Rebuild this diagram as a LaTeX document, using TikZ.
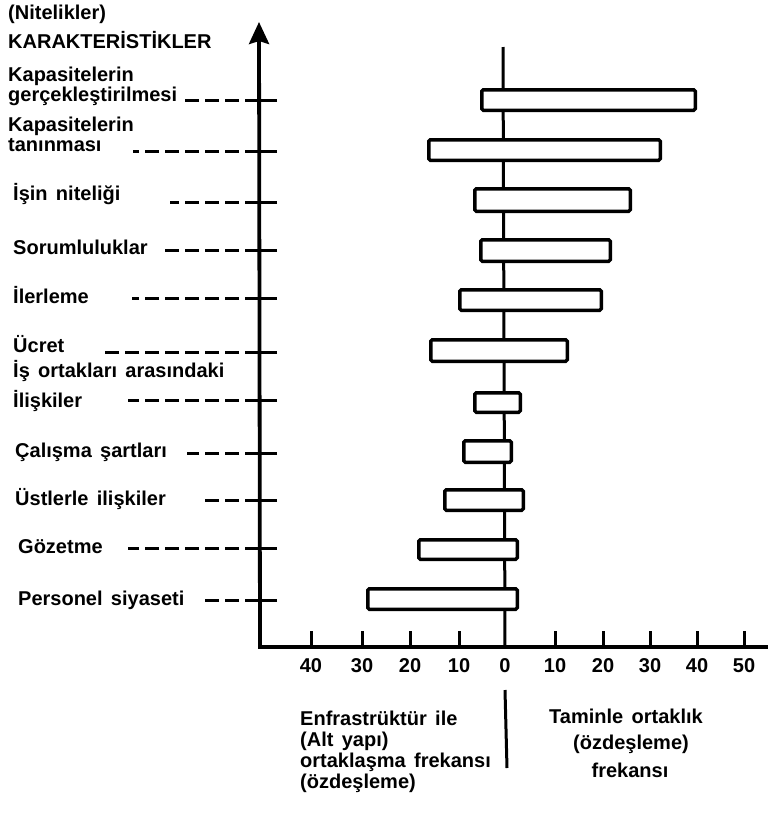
\documentclass[tikz,border=0pt]{standalone}
\usepackage{fontspec}
\setmainfont[WordSpace=1.5]{Liberation Sans}
\usetikzlibrary{arrows.meta}

\begin{document}
\begin{tikzpicture}[x=1pt,y=-1pt,
  every node/.style={font=\fontsize{20}{22}\bfseries\selectfont, inner sep=0pt},
  lbl/.style={anchor=base west},
  ctr/.style={anchor=base},
  bar/.style={draw, line width=3.5pt, fill=white, rounded corners=1.5pt},
  leader/.style={line width=3pt, dash pattern=on 32pt off 6pt on 14pt off 6pt on 14pt off 6pt on 14pt off 6pt on 14pt off 6pt on 14pt off 6pt on 14pt off 6pt on 14pt off 6pt on 14pt off 6pt},
  axis/.style={line width=3.8pt, line join=miter},
  tickmark/.style={line width=3pt},
  zeroline/.style={line width=3pt}
]
\useasboundingbox (0,0) rectangle (768,817);

% axes
\coordinate (O) at (260,647);
\coordinate (ytip) at (259,22);
\coordinate (xend) at (768,647);
\draw[axis, -{Stealth[length=22pt,width=20pt,inset=3pt]}] (xend) -- (O) -- (ytip);

% zero reference line (runs behind the bars)
\coordinate (ztop) at (503,47);
\coordinate (zbase) at (505,647);
\draw[zeroline] (ztop) -- (zbase);

% frequency bars: index / left / right / top / bottom (outer edges)
\foreach \i/\l/\r/\t/\b in {
  1/480/697/88/112, 2/427/662/138/162, 3/473/632/187/213,
  4/479/612/238/263, 5/458/603/288/312, 6/429/569/338/363,
  7/473/522/391/414, 8/462/513/439/464, 9/443/525/488/512,
  10/417/519/538/561, 11/366/519/587/611}
  \node[bar, minimum width={\r-\l-3.5}, minimum height={\b-\t-3.5}]
    (bar\i) at ({(\l+\r)/2},{(\t+\b)/2}) {};

% axis titles
\node[lbl] (ttl1) at (8,19) {(Nitelikler)};
\node[lbl] (ttl2) at (8,48) {KARAKTERİSTİKLER};

% characteristic labels
\node[lbl] (l1a) at (8,81) {Kapasitelerin};
\node[lbl] (l1b) at (8,101) {gerçekleştirilmesi};
\node[lbl] (l2a) at (8,131) {Kapasitelerin};
\node[lbl] (l2b) at (8,151) {tanınması};
\node[lbl] (l3) at (13,200) {İşin niteliği};
\node[lbl] (l4) at (13,254) {Sorumluluklar};
\node[lbl] (l5) at (13,303) {İlerleme};
\node[lbl] (l6) at (13,352) {Ücret};
\node[lbl] (l7a) at (13,377) {İş ortakları arasındaki};
\node[lbl] (l7b) at (13,407) {İlişkiler};
\node[lbl] (l8) at (15,457) {Çalışma şartları};
\node[lbl] (l9) at (15,505) {Üstlerle ilişkiler};
\node[lbl] (l10) at (18,553) {Gözetme};
\node[lbl] (l11) at (18,605) {Personel siyaseti};

% dashed leaders from the labels to the axis
\foreach \i/\s/\y in {1/183/100, 2/133/151, 3/170/202, 4/159/250, 5/132/298,
  6/102/352, 7/128/400, 8/187/453, 9/199/500, 10/128/548, 11/199/600} {
  \coordinate (ds\i) at (\s,\y);
  \coordinate (de\i) at (277,\y);
  \draw[leader] (de\i) -- (ds\i);
}

% scale ticks and numbers
\foreach \x/\n in {311/40, 362/30, 410/20, 459/10, 555/10, 603/20, 650/30, 697/40, 744/50} {
  \coordinate (tk\x) at (\x,647);
  \coordinate (tt\x) at (\x,631);
  \draw[tickmark] (tk\x) -- (tt\x);
  \node[ctr] (num\x) at (\x,672) {\n};
}
\node[ctr] (num0) at (505,672) {0};

% divider below the zero mark
\coordinate (dtop) at (505,690);
\coordinate (dbot) at (507,768);
\draw[zeroline] (dtop) -- (dbot);

% legend texts
\node[lbl] (left1) at (300,725) {Enfrastrüktür ile};
\node[lbl] (left2) at (300,746) {(Alt yapı)};
\node[lbl] (left3) at (300,767) {ortaklaşma frekansı};
\node[lbl] (left4) at (300,788) {(özdeşleme)};

\node[ctr] (right1) at (626,723) {Taminle ortaklık};
\node[ctr] (right2) at (631,749) {(özdeşleme)};
\node[ctr] (right3) at (630,777) {frekansı};
\end{tikzpicture}
\end{document}
